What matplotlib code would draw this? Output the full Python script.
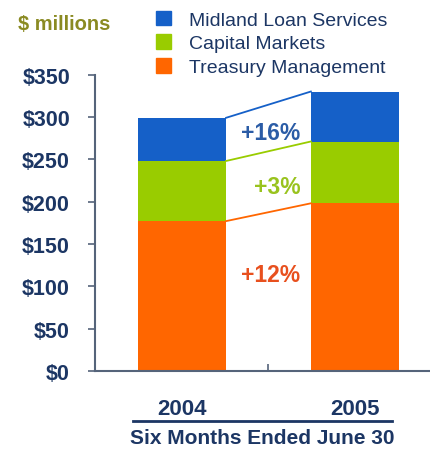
import matplotlib
matplotlib.use("Agg")
import matplotlib.pyplot as plt
from matplotlib.patches import Patch

plt.rcParams['font.family'] = ['Liberation Sans', 'DejaVu Sans']

# revenue by business, $ millions, six months ended June 30
years = ["2004", "2005"]
treasury = [177, 198]
capital = [71, 73]
midland = [51, 59]

series_names = ["Treasury Management", "Capital Markets", "Midland Loan Services"]
bar_colors = ["#ff6600", "#99cc00", "#1560c8"]
label_colors = ["#e8501e", "#99c31e", "#2b5ca6"]
navy = "#1c3664"

fig = plt.figure(figsize=(4.30, 4.52), dpi=100)
ax = fig.add_axes([95 / 430, 1 - 372 / 452, 1 - 95 / 430, (372 - 75.6) / 452])

x = [0, 1]
w = 0.51
series = [treasury, capital, midland]
bottoms = [0, 0]
tops = []
for vals, col, name in zip(series, bar_colors, series_names):
    ax.bar(x, vals, w, bottom=bottoms, color=col, label=name, zorder=2)
    bottoms = [b + v for b, v in zip(bottoms, vals)]
    tops.append(list(bottoms))

# connectors between segment tops
for top, col in zip(tops, bar_colors):
    ax.plot([x[0] + w / 2, x[1] - w / 2], [top[0], top[1]], color=col, lw=1.3, zorder=3)

# growth labels
label_pos = [(0.51, 114), (0.55, 218), (0.51, 282)]
for vals, col, (lx, ly) in zip(series, label_colors, label_pos):
    pct = round((vals[1] / vals[0] - 1) * 100)
    ax.text(lx, ly, f"+{pct}%", color=col, fontsize=16.5, fontweight="bold",
            ha="center", va="center")

ax.set_xlim(-0.503, 1.434)
ax.set_ylim(0, 350)
ax.set_yticks(range(0, 351, 50))
ax.set_yticklabels([f"${v}" for v in range(0, 351, 50)])
ax.tick_params(axis="y", direction="out", length=5, width=1.2, color="#55647a",
               labelsize=15.5, labelcolor=navy, pad=13)
for lab in ax.get_yticklabels():
    lab.set_fontweight("bold")

ax.set_xticks([0.5])
ax.set_xticklabels([])
ax.tick_params(axis="x", direction="in", length=5, width=1.2, color="#55647a")

for s in ["top", "right"]:
    ax.spines[s].set_visible(False)
for s in ["left", "bottom"]:
    ax.spines[s].set_color("#55647a")
    ax.spines[s].set_linewidth(1.5)

# category labels and caption under the axis
tr = ax.get_xaxis_transform()
for xi, yr in zip(x, years):
    ax.text(xi, -0.125, yr, transform=tr, ha="center", va="center",
            fontsize=16, fontweight="bold", color=navy)
ax.plot([-0.283, 1.214], [-0.169, -0.169], transform=tr, color=navy, lw=2, clip_on=False)
ax.text(0.462, -0.223, "Six Months Ended June 30", transform=tr, ha="center",
        va="center", fontsize=15, fontweight="bold", color=navy)

fig.text(18 / 430, 1 - 25 / 452, "$ millions", fontsize=14.5, fontweight="bold",
         color="#8a8a22", va="center", ha="left")

handles = [Patch(color=c) for c in bar_colors][::-1]
fig.legend(handles, series_names[::-1], loc="upper left",
           bbox_to_anchor=(142 / 430, 1 + 2 / 452), frameon=False,
           fontsize=14, labelcolor=navy, handlelength=0.8, handleheight=0.8,
           handletextpad=0.9, labelspacing=0.28, borderpad=0.2)

fig.savefig("out.png", dpi=100)
